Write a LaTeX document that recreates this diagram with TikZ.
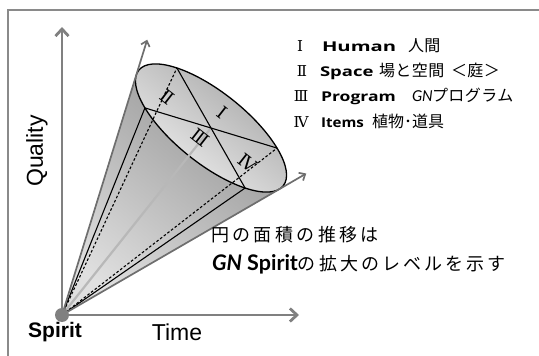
\documentclass[tikz,border=0pt]{standalone}
\usepackage{fontspec}
\usetikzlibrary{arrows.meta,calc}
\newfontfamily\jpfont{Noto Sans CJK JP}
\newfontfamily\romfont{DejaVu Serif}
\newfontfamily\arlfont{Liberation Sans}
\newfontfamily\widefont{Open Sans}
\newfontfamily\latofont{Lato}
\definecolor{axisgray}{HTML}{808080}
\definecolor{diaggray}{HTML}{6E6E6E}
\definecolor{framegray}{HTML}{8A8A8A}
\definecolor{centergray}{HTML}{B8B8B8}
\definecolor{conedark}{HTML}{969696}
\definecolor{conelight}{HTML}{E0E0E0}
\definecolor{facedark}{HTML}{A2A2A2}
\definecolor{facelight}{HTML}{F4F4F4}
\begin{document}
\begin{tikzpicture}[x=1pt,y=1pt,
  mainaxis/.style={draw=axisgray,line width=2.8pt,-{Straight Barb[length=7pt,width=13pt]}},
  diagaxis/.style={draw=diaggray,line width=1.7pt,-{Straight Barb[length=5pt,width=9pt]}},
  edgeline/.style={draw=black,line width=1.1pt},
  hiddenline/.style={draw=black,line width=1.1pt,dash pattern=on 2.6pt off 2pt},
  txt/.style={inner sep=0pt,outer sep=0pt},
  facelbl/.style={txt,font=\romfont\fontsize{18}{18}\selectfont,rotate=-38},
  numlbl/.style={txt,anchor=base,font=\romfont\fontsize{15}{15}\selectfont},
  wordlbl/.style={txt,anchor=base west,font=\widefont\bfseries\fontsize{13.5}{15}\selectfont},
  jplbl/.style={txt,anchor=base west,font=\jpfont\fontsize{16}{16}\selectfont\addfontfeature{LetterSpace=3}},
  gnlbl/.style={txt,anchor=base west,font=\latofont\itshape\fontsize{15}{15}\selectfont},
  notelbl/.style={txt,anchor=base west,font=\jpfont\fontsize{18}{18}\selectfont},
  axislbl/.style={txt,font=\arlfont\fontsize{23}{23}\selectfont}
]
\useasboundingbox (0,0) rectangle (539,-356);
% frame
\coordinate (F1) at (8,-357);
\coordinate (F2) at (8,-10);
\coordinate (F3) at (540,-10);
\draw[framegray,line width=1.8pt] (F1) -- (F2) -- (F3);

% key points
\coordinate (O) at (62,-315);
\coordinate (C) at (211,-128);
\begin{scope}[shift={(C)},rotate=-38.66]
  \coordinate (P1) at (226.1:92.5 and 35.5);
  \coordinate (P3) at (46.1:92.5 and 35.5);
  \coordinate (P2) at (133.9:92.5 and 35.5);
  \coordinate (P4) at (313.9:92.5 and 35.5);
  \coordinate (T1) at (188.55:92.5 and 35.5);
  \coordinate (T2) at (351.45:92.5 and 35.5);
\end{scope}
\coordinate (Q1) at ($(O)!1.147!(T1)$);
\coordinate (Q2) at ($(O)!1.125!(T2)$);
\coordinate (Yt) at (62,-27);
\coordinate (Xt) at (299,-315);

% main axes
\draw[mainaxis] (O) -- (Yt);
\draw[mainaxis] (O) -- (Xt);

% cone body
\fill[left color=conedark,right color=conelight,shading angle=-38.66] (O) -- (T1) -- (T2) -- cycle;

% face
\draw[line width=1.3pt,top color=facedark,bottom color=facelight,shading angle=-38.66]
  (C) circle [x radius=92.5, y radius=35.5, rotate=-38.66];

% centre axis
\draw[centergray,line width=2.2pt] (O) -- (C);

% generators
\draw[edgeline] (O) -- (P1);
\draw[edgeline] (O) -- (P4);
\draw[hiddenline] (O) -- (P2);
\draw[hiddenline] (O) -- (P3);

% diameters
\draw[edgeline] (P1) -- (P3);
\draw[edgeline] (P2) -- (P4);

% diagonal axes
\draw[diagaxis] (O) -- (Q1);
\draw[diagaxis] (O) -- (Q2);

% origin dot
\fill[axisgray] (O) circle (7);

% face labels
\node[facelbl] (L1) at (222,-113) {Ⅰ};
\node[facelbl] (L2) at (167,-97) {Ⅱ};
\node[facelbl] (L3) at (200,-138) {Ⅲ};
\node[facelbl] (L4) at (248,-163) {Ⅳ};

% axis labels
\node[axislbl,rotate=90] (qual) at (37,-151) {Quality};
\node[axislbl,anchor=base] (time) at (177,-340) {Time};
\node[txt,anchor=base,font=\arlfont\bfseries\fontsize{21}{21}\selectfont] (spirit) at (55,-337) {Spirit};

% legend
\node[numlbl] (n1) at (300,-52) {Ⅰ};
\node[numlbl] (n2) at (302,-76) {Ⅱ};
\node[numlbl] (n3) at (301,-101) {Ⅲ};
\node[numlbl] (n4) at (301,-127) {Ⅳ};
\node[wordlbl,xscale=1.5] (w1) at (322,-52) {Human};
\node[wordlbl,xscale=1.37] (w2) at (320,-76) {Space};
\node[wordlbl,xscale=1.3] (w3) at (321,-101) {Program};
\node[wordlbl,xscale=1.12] (w4) at (321,-127) {Items};
\node[jplbl] (j1) at (408,-52) {人間};
\node[jplbl] (j2) at (379,-76) {場と空間};
\node[jplbl] (j2b) at (451,-76) {＜庭＞};
\node[gnlbl] (g3) at (412,-101) {GN};
\node[jplbl] (j3) at (432,-101) {プログラム};
\node[txt,anchor=base west,font=\jpfont\fontsize{16}{16}\selectfont] (j4) at (372,-127) {植物･道具};

% note
\node[notelbl] (b1) at (211,-241) {\addfontfeature{LetterSpace=19}円の面積の推移は};
\node[notelbl] (b2) at (212,-270) {{\latofont\bfseries\fontsize{21.5}{21}\selectfont\itshape GN\upshape{} Spirit}\addfontfeature{LetterSpace=17}の拡大のレベルを示す};
\end{tikzpicture}
\end{document}
